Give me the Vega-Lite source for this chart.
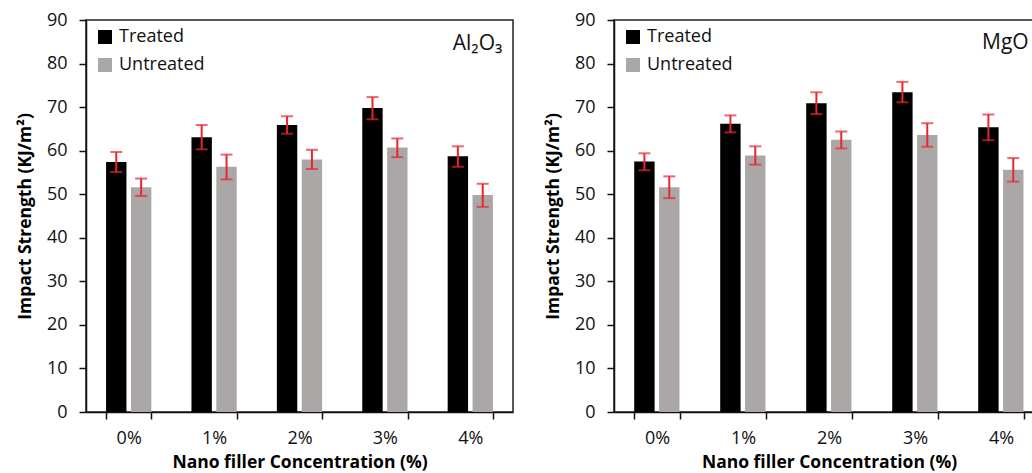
{
  "$schema": "https://vega.github.io/schema/vega-lite/v6.json",
  "padding": {"left": 15, "top": 10, "right": 0, "bottom": 0},
  "background": "white",
  "config": {
    "font": "Open Sans",
    "view": {"stroke": "#222", "strokeWidth": 1.5},
    "axis": {"grid": false, "domainColor": "#111", "domainWidth": 1.5, "tickColor": "#111", "tickWidth": 1.5, "tickSize": 7, "labelFont": "Open Sans", "labelFontSize": 18, "labelColor": "#111", "titleFont": "Open Sans", "titleFontWeight": "bold", "titleFontSize": 17.5, "titleColor": "#000"},
    "legend": {"labelFont": "Open Sans", "labelFontSize": 18, "labelColor": "#111"}
  },
  "datasets": {
    "al": [
      {"conc": "0%", "group": "Treated", "value": 57.4, "lo": 55.1, "hi": 59.7},
      {"conc": "0%", "group": "Untreated", "value": 51.6, "lo": 49.6, "hi": 53.6},
      {"conc": "1%", "group": "Treated", "value": 63.1, "lo": 60.3, "hi": 65.9},
      {"conc": "1%", "group": "Untreated", "value": 56.3, "lo": 53.4, "hi": 59.1},
      {"conc": "2%", "group": "Treated", "value": 65.9, "lo": 63.9, "hi": 67.9},
      {"conc": "2%", "group": "Untreated", "value": 58.0, "lo": 55.8, "hi": 60.2},
      {"conc": "3%", "group": "Treated", "value": 69.8, "lo": 67.2, "hi": 72.3},
      {"conc": "3%", "group": "Untreated", "value": 60.7, "lo": 58.5, "hi": 62.8},
      {"conc": "4%", "group": "Treated", "value": 58.7, "lo": 56.3, "hi": 61.0},
      {"conc": "4%", "group": "Untreated", "value": 49.8, "lo": 47.1, "hi": 52.4}
    ],
    "mg": [
      {"conc": "0%", "group": "Treated", "value": 57.5, "lo": 55.5, "hi": 59.4},
      {"conc": "0%", "group": "Untreated", "value": 51.6, "lo": 49.1, "hi": 54.1},
      {"conc": "1%", "group": "Treated", "value": 66.2, "lo": 64.2, "hi": 68.1},
      {"conc": "1%", "group": "Untreated", "value": 58.9, "lo": 56.8, "hi": 61.0},
      {"conc": "2%", "group": "Treated", "value": 70.9, "lo": 68.4, "hi": 73.4},
      {"conc": "2%", "group": "Untreated", "value": 62.5, "lo": 60.5, "hi": 64.4},
      {"conc": "3%", "group": "Treated", "value": 73.4, "lo": 71.1, "hi": 75.8},
      {"conc": "3%", "group": "Untreated", "value": 63.6, "lo": 60.9, "hi": 66.3},
      {"conc": "4%", "group": "Treated", "value": 65.4, "lo": 62.4, "hi": 68.3},
      {"conc": "4%", "group": "Untreated", "value": 55.6, "lo": 52.9, "hi": 58.3}
    ],
    "lab1": [{"label": "Al₂O₃"}],
    "lab2": [{"label": "MgO"}]
  },
  "spacing": 29,
  "resolve": {"legend": {"color": "independent"}},
  "hconcat": [
    {
      "width": 427, "height": 392,
      "data": {"name": "al"},
      "encoding": {
        "x": {"field": "conc", "type": "nominal", "sort": ["0%", "1%", "2%", "3%", "4%"], "scale": {"paddingInner": 0.47, "paddingOuter": 0.235}, "title": "Nano filler Concentration (%)", "axis": {"labelAngle": 0, "tickBand": "extent", "labelPadding": 10, "titlePadding": 6}}
      },
      "layer": [
        {"mark": {"type": "bar"}, "encoding": {
          "xOffset": {"field": "group", "type": "nominal", "sort": ["Treated", "Untreated"], "scale": {"paddingInner": 0.18}},
          "y": {"field": "value", "type": "quantitative", "scale": {"domain": [0, 90]}, "title": "Impact Strength (KJ/m²)", "axis": {"values": [0,10,20,30,40,50,60,70,80,90], "labelPadding": 12, "titlePadding": 12}},
          "color": {"field": "group", "type": "nominal", "scale": {"domain": ["Treated", "Untreated"], "range": ["#000000", "#aba7a7"]}, "legend": {"title": null, "orient": "none", "legendX": 10, "legendY": 8, "symbolType": "square", "symbolSize": 196, "symbolStrokeWidth": 0, "rowPadding": 10, "labelOffset": 5}}
        }},
        {"mark": {"type": "rule", "color": "#e8262d", "strokeWidth": 2}, "encoding": {
          "xOffset": {"field": "group", "type": "nominal", "sort": ["Treated", "Untreated"]},
          "y": {"field": "lo", "type": "quantitative"}, "y2": {"field": "hi"}}},
        {"mark": {"type": "tick", "color": "#e8262d", "thickness": 2}, "encoding": {
          "xOffset": {"field": "group", "type": "nominal", "sort": ["Treated", "Untreated"]},
          "y": {"field": "lo", "type": "quantitative"}, "size": {"value": 12}}},
        {"mark": {"type": "tick", "color": "#e8262d", "thickness": 2}, "encoding": {
          "xOffset": {"field": "group", "type": "nominal", "sort": ["Treated", "Untreated"]},
          "y": {"field": "hi", "type": "quantitative"}, "size": {"value": 12}}},
        {"data": {"name": "lab1"}, "mark": {"type": "text", "align": "right", "baseline": "middle", "fontSize": 21, "font": "Open Sans", "color": "#111", "dx": 32}, "encoding": {
          "x": {"datum": "4%"}, "y": {"datum": 84.5}, "text": {"field": "label"}}}
      ]
    },
    {
      "width": 430, "height": 392,
      "data": {"name": "mg"},
      "encoding": {
        "x": {"field": "conc", "type": "nominal", "sort": ["0%", "1%", "2%", "3%", "4%"], "scale": {"paddingInner": 0.47, "paddingOuter": 0.235}, "title": "Nano filler Concentration (%)", "axis": {"labelAngle": 0, "tickBand": "extent", "labelPadding": 10, "titlePadding": 6}}
      },
      "layer": [
        {"mark": {"type": "bar"}, "encoding": {
          "xOffset": {"field": "group", "type": "nominal", "sort": ["Treated", "Untreated"], "scale": {"paddingInner": 0.18}},
          "y": {"field": "value", "type": "quantitative", "scale": {"domain": [0, 90]}, "title": "Impact Strength (KJ/m²)", "axis": {"values": [0,10,20,30,40,50,60,70,80,90], "labelPadding": 12, "titlePadding": 12}},
          "color": {"field": "group", "type": "nominal", "scale": {"domain": ["Treated", "Untreated"], "range": ["#000000", "#aba7a7"]}, "legend": {"title": null, "orient": "none", "legendX": 10, "legendY": 8, "symbolType": "square", "symbolSize": 196, "symbolStrokeWidth": 0, "rowPadding": 10, "labelOffset": 5}}
        }},
        {"mark": {"type": "rule", "color": "#e8262d", "strokeWidth": 2}, "encoding": {
          "xOffset": {"field": "group", "type": "nominal", "sort": ["Treated", "Untreated"]},
          "y": {"field": "lo", "type": "quantitative"}, "y2": {"field": "hi"}}},
        {"mark": {"type": "tick", "color": "#e8262d", "thickness": 2}, "encoding": {
          "xOffset": {"field": "group", "type": "nominal", "sort": ["Treated", "Untreated"]},
          "y": {"field": "lo", "type": "quantitative"}, "size": {"value": 12}}},
        {"mark": {"type": "tick", "color": "#e8262d", "thickness": 2}, "encoding": {
          "xOffset": {"field": "group", "type": "nominal", "sort": ["Treated", "Untreated"]},
          "y": {"field": "hi", "type": "quantitative"}, "size": {"value": 12}}},
        {"data": {"name": "lab2"}, "mark": {"type": "text", "align": "left", "baseline": "middle", "fontSize": 21, "font": "Open Sans", "color": "#111", "dx": -19}, "encoding": {
          "x": {"datum": "4%"}, "y": {"datum": 84.8}, "text": {"field": "label"}}}
      ]
    }
  ]
}
